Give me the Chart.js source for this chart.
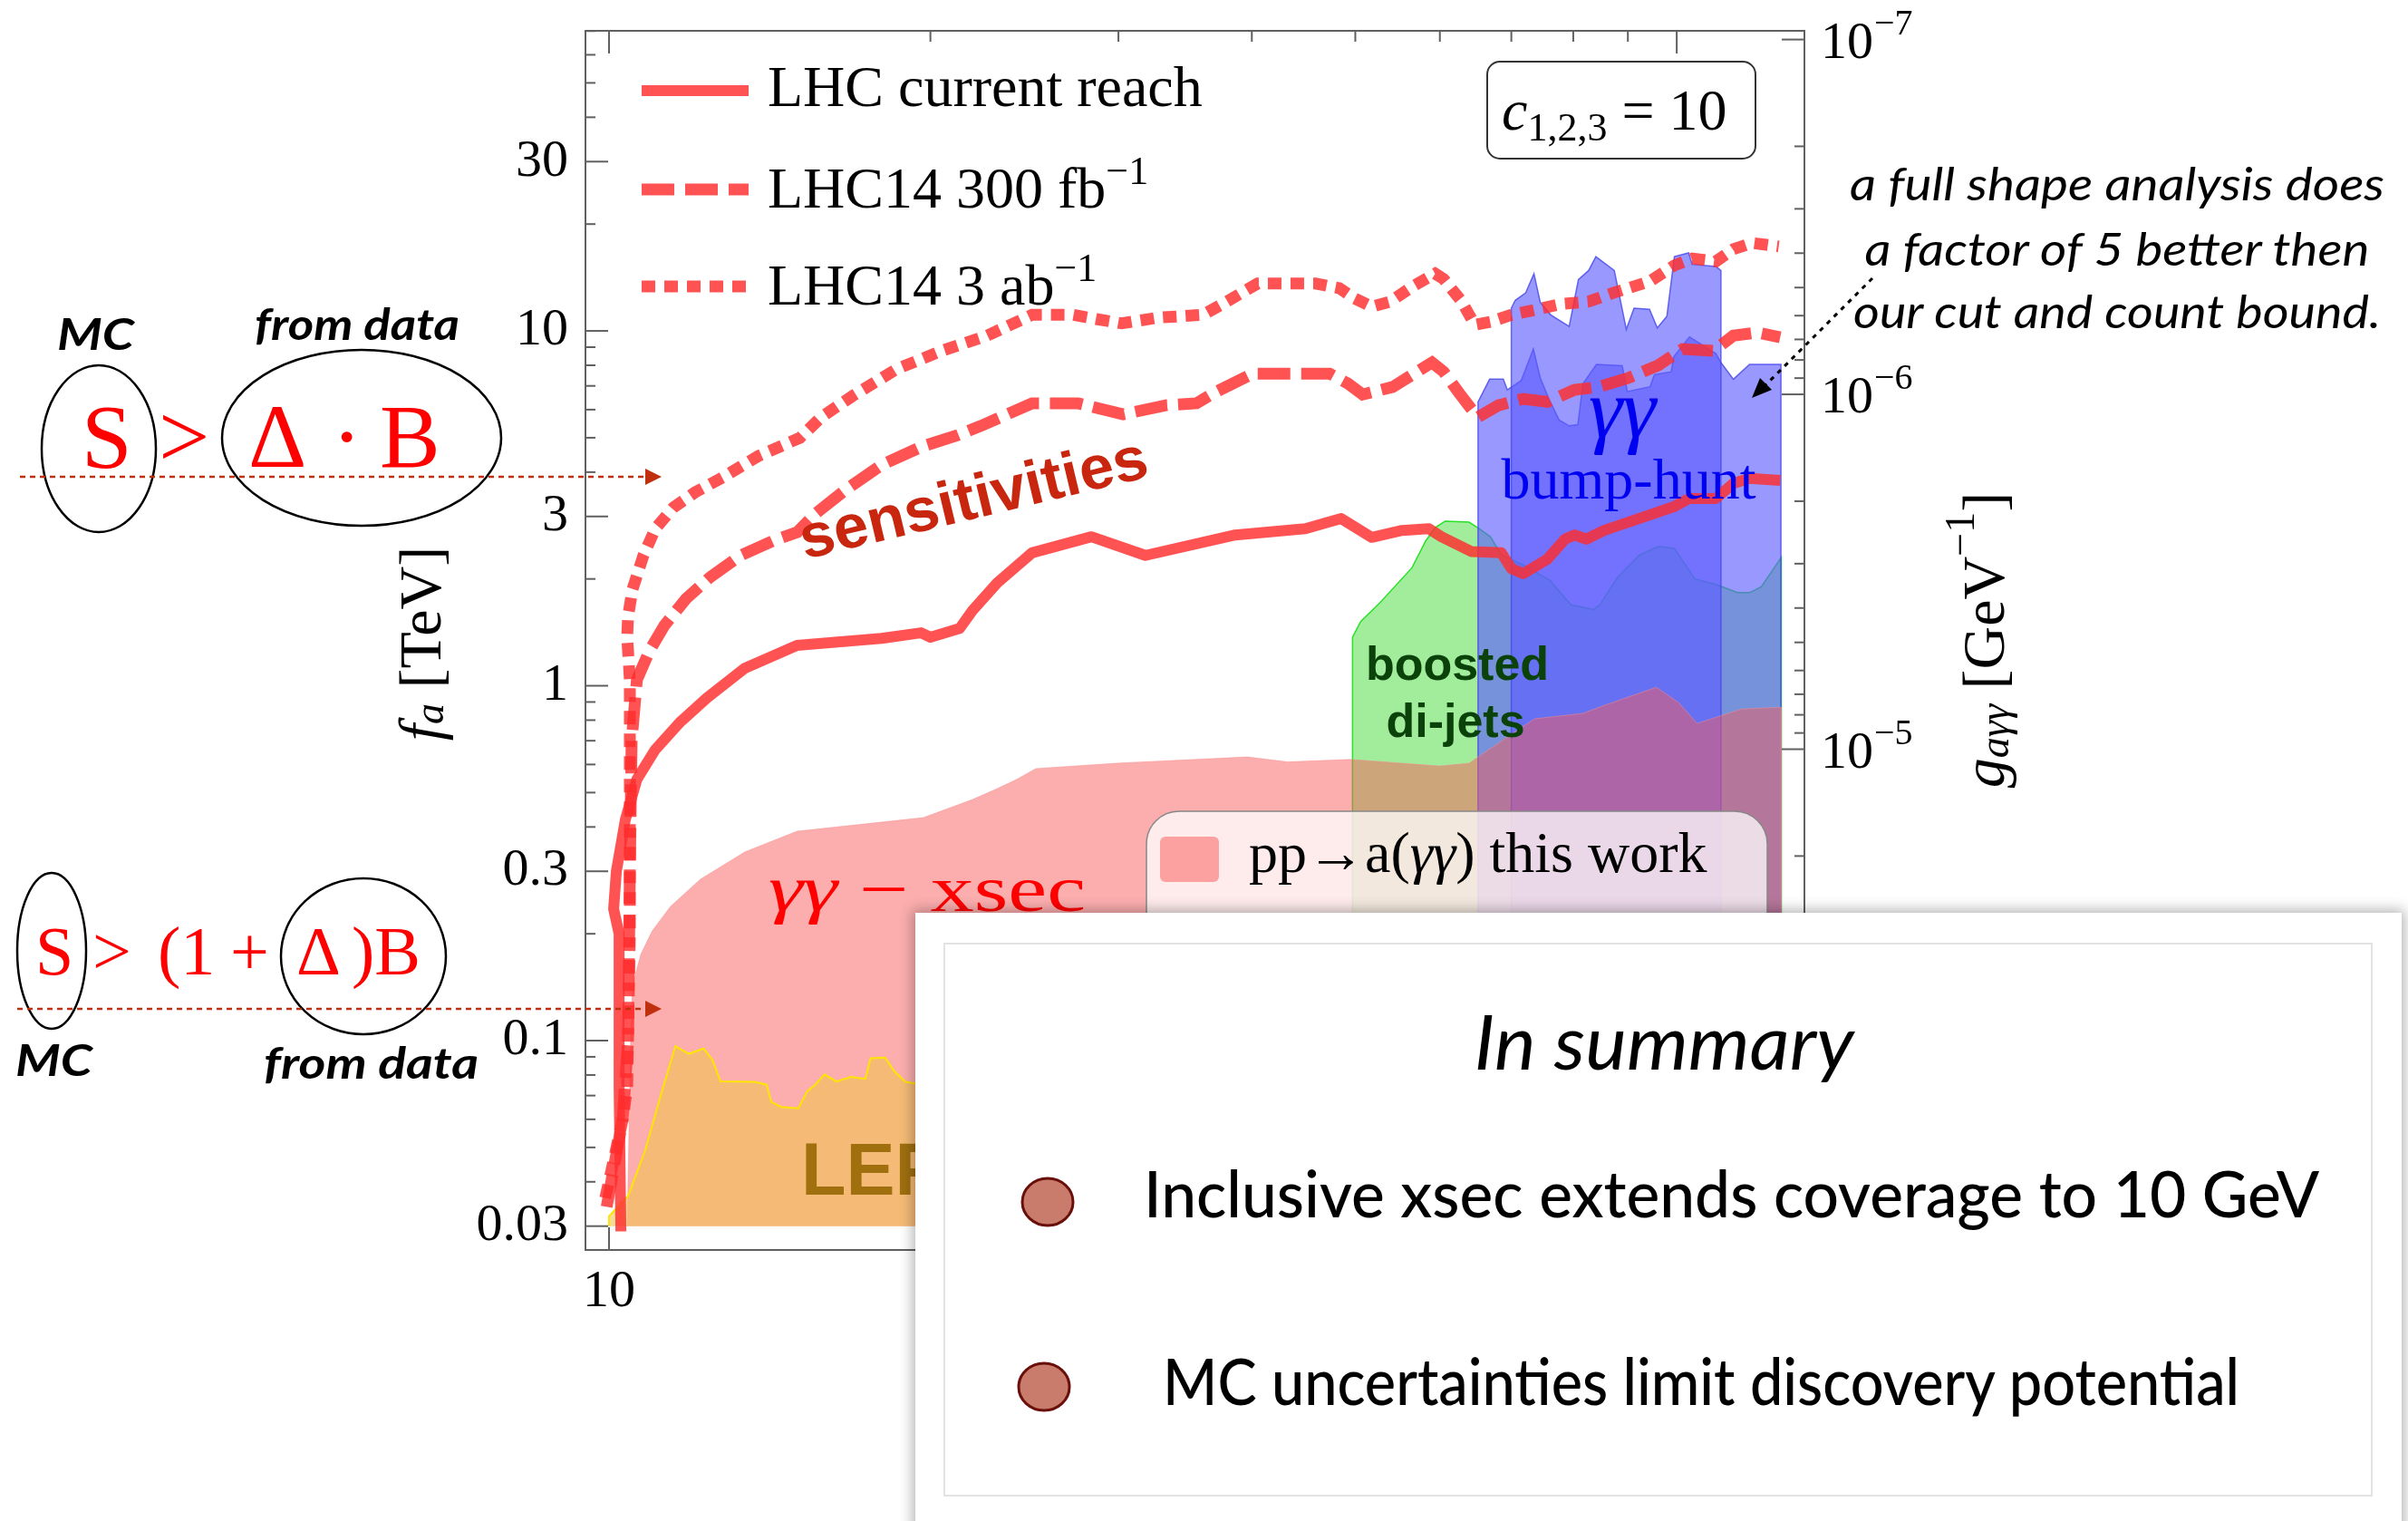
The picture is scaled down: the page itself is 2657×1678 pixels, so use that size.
<!DOCTYPE html>
<html lang="en">
<head>
<meta charset="utf-8">
<title>f_a reach vs m_a</title>
<script src="https://cdn.jsdelivr.net/npm/chart.js@4.4.1/dist/chart.umd.min.js"></script>
<style>
  html, body { margin: 0; padding: 0; background: #fff; }
  body { position: relative; width: 2657px; height: 1678px; overflow: hidden; }
  #plot, svg, #summary { position: absolute; left: 0; top: 0; }
  svg text { font-family: 'Liberation Serif', 'Times New Roman', serif; }
  svg text.sans { font-family: 'Liberation Sans', Arial, sans-serif; font-weight: bold; }
  svg text.fut, svg g.fut text { font-family: Lato, 'Noto Sans', sans-serif; }
  #summary { left: 1010px; top: 1007px; width: 1640px; height: 720px; background: #fff;
             box-shadow: 0 0 14px 3px rgba(0,0,0,0.3); }
</style>
</head>
<body>
<canvas id="plot" width="2657" height="1678"></canvas>

<svg id="notes" width="2657" height="1678">
  <!-- legend inside the frame -->
  <g stroke="rgba(255,45,45,0.82)" stroke-width="12">
    <line x1="708" y1="100" x2="826" y2="100"/>
    <line x1="708" y1="209" x2="826" y2="209" stroke-width="13" stroke-dasharray="36 12"/>
    <line x1="708" y1="316" x2="826" y2="316" stroke-width="13" stroke-dasharray="15 10"/>
  </g>
  <g font-size="64" fill="#000">
    <text x="847" y="117">LHC current reach</text>
    <text x="847" y="229">LHC14 300 fb<tspan font-size="44" dy="-26">−1</tspan></text>
    <text x="847" y="336">LHC14 3 ab<tspan font-size="44" dy="-26">−1</tspan></text>
  </g>

  <rect x="1641" y="68" width="296" height="107" rx="14" fill="#fff" stroke="#333" stroke-width="2"/>
  <text x="1657" y="143" font-size="64"><tspan font-style="italic">c</tspan><tspan font-size="44" dy="12">1,2,3</tspan><tspan dy="-12"> = 10</tspan></text>

  <!-- region labels -->
  <text class="sans" x="888" y="617" font-size="68" fill="#c8260f" transform="rotate(-13.5 888 617)"
        textLength="393" lengthAdjust="spacingAndGlyphs">sensitivities</text>
  <text x="848" y="1005" font-size="72" fill="#ff0000" textLength="350" lengthAdjust="spacingAndGlyphs"><tspan font-style="italic">γγ</tspan> − xsec</text>
  <text class="sans" x="884" y="1318" font-size="81" fill="#a0700f">LEP</text>
  <text class="sans" x="1608" y="750" font-size="52" fill="#0a420a" text-anchor="middle">boosted</text>
  <text class="sans" x="1606" y="813" font-size="52" fill="#0a420a" text-anchor="middle">di-jets</text>
  <text x="1790" y="482" font-size="94" font-style="italic" fill="#0000f0" text-anchor="middle">γγ</text>
  <text x="1797" y="550" font-size="64" fill="#0000f0" text-anchor="middle">bump-hunt</text>

  <!-- legend box for the pink region -->
  <rect x="1265" y="895" width="685" height="220" rx="36" fill="rgba(255,255,255,0.75)" stroke="#888" stroke-width="1.5"/>
  <rect x="1280" y="923" width="65" height="50" rx="6" fill="#fca0a0"/>
  <text x="1378" y="962" font-size="64">pp→a(<tspan font-style="italic">γγ</tspan>) this work</text>

  <!-- note at the right -->
  <g class="fut" font-style="italic" font-size="50" fill="#000" text-anchor="middle">
    <text x="2336" y="221" textLength="590" lengthAdjust="spacingAndGlyphs">a full shape analysis does</text>
    <text x="2336" y="293" textLength="557" lengthAdjust="spacingAndGlyphs">a factor of 5 better then</text>
    <text x="2336" y="362" textLength="582" lengthAdjust="spacingAndGlyphs">our cut and count bound.</text>
  </g>
  <line x1="2066" y1="307" x2="1947" y2="426" stroke="#000" stroke-width="3" stroke-dasharray="5 6"/>
  <polygon points="1933,439 1955,430 1942,417" fill="#000"/>

  <!-- axis titles -->
  <text x="463" y="710" font-size="66" text-anchor="middle" dominant-baseline="central" transform="rotate(-90 463 710)"><tspan font-style="italic">f</tspan><tspan font-style="italic" font-size="46" dy="10">a</tspan><tspan dy="-10"> [TeV]</tspan></text>
  <text x="2188" y="706" font-size="66" text-anchor="middle" dominant-baseline="central" transform="rotate(-90 2188 706)"><tspan font-style="italic">g</tspan><tspan font-style="italic" font-size="46" dy="12">aγγ</tspan><tspan dy="-12"> [GeV</tspan><tspan font-size="46" dy="-26">−1</tspan><tspan dy="26">]</tspan></text>

  <!-- S > Delta B notes on the left -->
  <g class="fut" font-style="italic" font-weight="700" font-size="48" fill="#000">
    <text x="63" y="386" textLength="85" lengthAdjust="spacingAndGlyphs">MC</text>
    <text x="281" y="375" textLength="226" lengthAdjust="spacingAndGlyphs">from data</text>
    <text x="17" y="1187" textLength="85" lengthAdjust="spacingAndGlyphs">MC</text>
    <text x="291" y="1190" textLength="237" lengthAdjust="spacingAndGlyphs">from data</text>
  </g>
  <g fill="none" stroke="#000" stroke-width="2.5">
    <ellipse cx="109" cy="495" rx="63" ry="92"/>
    <ellipse cx="399" cy="483" rx="154" ry="97"/>
    <ellipse cx="57" cy="1049" rx="38" ry="86"/>
    <ellipse cx="401" cy="1055" rx="91" ry="86"/>
  </g>
  <text y="515" font-size="100" fill="#ff0000"><tspan x="90">S</tspan><tspan x="175">&gt;</tspan><tspan x="274">Δ</tspan><tspan x="366">·</tspan><tspan x="419">B</tspan></text>
  <text y="1075" font-size="76" fill="#ff0000"><tspan x="39">S</tspan><tspan x="102">&gt;</tspan><tspan x="174">(1</tspan><tspan x="254">+</tspan><tspan x="327">Δ</tspan><tspan x="388">)B</tspan></text>
  <g stroke="#c0300e" stroke-width="2.5" stroke-dasharray="6 5">
    <line x1="22" y1="526" x2="714" y2="526"/>
    <line x1="19" y1="1113" x2="714" y2="1113"/>
  </g>
  <g fill="#c0300e">
    <polygon points="730,526 712,517 712,535"/>
    <polygon points="730,1113 712,1104 712,1122"/>
  </g>
</svg>

<div id="summary"></div>

<svg id="summaryText" width="2657" height="1678">
  <rect x="1042" y="1041" width="1575" height="609" fill="none" stroke="#e2e2e2" stroke-width="2"/>
  <text class="fut" x="1836" y="1180" font-size="84" font-style="italic" text-anchor="middle"
        textLength="419" lengthAdjust="spacingAndGlyphs">In summary</text>
  <ellipse cx="1156" cy="1326" rx="28" ry="26" fill="#c97b6c" stroke="#6a0f0a" stroke-width="3"/>
  <ellipse cx="1152" cy="1530" rx="28" ry="26" fill="#c97b6c" stroke="#6a0f0a" stroke-width="3"/>
  <text class="fut" x="1262" y="1343" font-size="72" font-weight="500" textLength="1297" lengthAdjust="spacingAndGlyphs">Inclusive xsec extends coverage to 10 GeV</text>
  <text class="fut" x="1283" y="1550" font-size="72" font-weight="500" textLength="1188" lengthAdjust="spacingAndGlyphs">MC uncertainties limit discovery potential</text>
</svg>

<script>
// axion mass m_a [GeV] against f_a [TeV]

// LHC current reach (solid)
const massCurrent = [10.26, 10.22, 10.22, 10.10, 10.16, 10.36, 10.62, 11.05, 11.65, 12.35, 13.4, 15.0, 18.0, 19.6, 20.0,
  21.3, 21.9, 23.1, 24.9, 28.3, 31.8, 38.6, 44.9, 48.5, 51.8, 55.3, 58.6, 60.2, 64.2, 68.5, 70.0, 71.8, 75.6, 78.6,
  80.2, 82.3, 85.5, 93.1, 99.5, 102.7, 108.8, 113.0, 117.0, 125.0];
const faCurrent = [0.029, 0.074, 0.20, 0.235, 0.30, 0.42, 0.545, 0.661, 0.788, 0.924, 1.12, 1.30, 1.36, 1.41, 1.37,
  1.45, 1.63, 1.95, 2.37, 2.63, 2.33, 2.66, 2.77, 2.96, 2.62, 2.74, 2.77, 2.63, 2.39, 2.37, 2.14, 2.07, 2.27, 2.59,
  2.66, 2.59, 2.74, 2.99, 3.20, 3.37, 3.37, 3.72, 3.84, 3.79];

// LHC14 300 fb-1 (dashed)
const mass300 = [9.95, 10.30, 10.42, 10.46, 10.50, 10.62, 10.92, 11.27, 11.81, 12.43, 13.28, 14.24, 15.01, 15.6, 16.66,
  18.0, 19.6, 21.2, 22.3, 24.9, 27.5, 30.3, 33.3, 35.5, 36.9, 40.1, 47.3, 49.2, 50.8, 54.2, 59.0, 60.5, 62.5, 65.1,
  68.1, 71.8, 75.7, 80.2, 84.4, 90.0, 96.1, 101.3, 108.3, 113.0, 119.0, 125.0];
const fa300 = [0.034, 0.060, 0.10, 0.30, 0.70, 1.04, 1.26, 1.48, 1.76, 2.02, 2.33, 2.56, 2.71, 3.05, 3.57,
  4.19, 4.71, 5.08, 5.40, 6.25, 6.25, 5.82, 6.18, 6.25, 6.70, 7.58, 7.58, 7.11, 6.62, 6.95, 8.15, 7.67, 6.70, 5.71,
  6.17, 6.43, 6.31, 6.82, 6.95, 7.36, 8.00, 8.89, 8.79, 9.70, 9.90, 9.60];

// LHC14 3 ab-1 (dotted)
const mass3ab = [9.92, 10.30, 10.40, 10.46, 10.46, 10.46, 10.46, 10.40, 10.42, 10.52, 10.77, 11.05, 11.49, 12.04, 12.77,
  13.8, 15.1, 15.8, 16.9, 18.6, 20.5, 22.6, 24.9, 27.2, 28.6, 30.2, 32.7, 36.0, 37.9, 40.5, 45.9, 48.3, 49.8, 51.8,
  53.9, 56.7, 59.4, 60.5, 62.9, 64.7, 66.9, 70.0, 73.0, 77.9, 82.7, 87.2, 94.4, 99.5, 103.4, 108.8, 113.0, 117.6, 124.6];
const fa3ab = [0.036, 0.060, 0.074, 0.20, 0.43, 0.77, 1.04, 1.37, 1.57, 1.87, 2.33, 2.77, 3.18, 3.51, 3.86,
  4.44, 5.00, 5.71, 6.55, 7.81, 8.79, 9.70, 11.1, 11.1, 10.8, 10.5, 10.9, 11.1, 12.1, 13.6, 13.6, 13.2, 12.4, 11.7,
  12.1, 13.4, 14.5, 14.0, 12.1, 10.4, 10.6, 11.1, 11.4, 11.9, 12.1, 12.8, 13.8, 15.3, 16.0, 15.7, 17.0, 17.7, 17.3];

// pp -> a(gamma gamma) inclusive cross section, this work (pink)
const massXsec = [10.40, 10.48, 10.52, 10.71, 10.98, 11.42, 12.18, 13.4, 15.0, 19.7, 21.9, 23.1, 24.1, 25.1, 29.9,
  39.6, 43.2, 49.5, 60.0, 63.9, 69.4, 73.6, 81.7, 85.5, 95.7, 100.4, 104.5, 115.0, 125.2, 125.2];
const faXsec = [0.030, 0.10, 0.143, 0.175, 0.204, 0.239, 0.285, 0.340, 0.389, 0.425, 0.478, 0.513, 0.545, 0.584, 0.605,
  0.630, 0.610, 0.620, 0.594, 0.605, 0.717, 0.807, 0.836, 0.880, 0.990, 0.897, 0.783, 0.860, 0.870, 0.030];

// LEP (orange)
const massLep = [10.00, 10.00, 10.42, 10.81, 11.22, 11.54, 11.88, 12.26, 12.50, 12.72, 13.70, 14.05, 14.19, 14.50,
  15.04, 15.34, 15.60, 15.92, 16.33, 16.85, 17.38, 17.58, 18.14, 18.50, 18.95, 19.46, 24.0, 24.0];
const faLep = [0.030, 0.032, 0.0365, 0.049, 0.0728, 0.0964, 0.0918, 0.0950, 0.0882, 0.0767, 0.0765, 0.0751, 0.0672, 0.0650,
  0.0644, 0.0721, 0.0751, 0.0803, 0.0767, 0.0790, 0.0780, 0.0892, 0.0896, 0.0820, 0.0765, 0.0755, 0.0750, 0.030];

// boosted di-jets (green)
const massDijet = [49.7, 49.7, 50.6, 52.7, 56.5, 58.2, 59.4, 60.7, 63.9, 65.1, 66.9, 68.5, 71.8, 76.1, 79.6, 83.6,
  84.7, 88.0, 92.2, 96.1, 99.5, 104.0, 108.8, 114.0, 117.0, 120.0, 125.3, 125.3];
const faDijet = [0.02, 1.37, 1.52, 1.71, 2.15, 2.56, 2.79, 2.91, 2.89, 2.79, 2.63, 2.34, 2.19, 1.98, 1.69, 1.64,
  1.69, 2.02, 2.33, 2.47, 2.44, 2.00, 1.93, 1.83, 1.83, 1.90, 2.30, 0.02];

// diphoton bump hunt, wide and core bands (blue)
const massBumpWide = [65.15, 65.15, 66.8, 68.8, 69.4, 71.5, 73.4, 74.5, 75.9, 77.6, 79.3, 80.8, 81.7, 84.1, 88.9,
  89.9, 94.4, 95.3, 98.8, 99.4, 102.8, 108.8, 110.0, 113.0, 117.0, 125.2, 125.2];
const faBumpWide = [0.02, 6.31, 7.31, 7.31, 6.82, 7.24, 8.89, 7.38, 6.43, 5.61, 5.40, 5.44, 7.10, 8.05, 7.98,
  6.75, 6.96, 7.53, 7.67, 8.47, 9.62, 8.63, 8.14, 7.31, 8.05, 8.05, 0.02];
const massBumpCore = [70.0, 70.0, 70.6, 72.2, 73.5, 74.5, 76.2, 79.3, 80.9, 82.7, 84.0, 87.4, 89.7, 91.2, 94.3,
  95.9, 97.9, 99.5, 102.6, 103.4, 108.8, 110.0, 110.0];
const faBumpCore = [0.02, 11.59, 12.2, 12.8, 14.5, 12.05, 11.1, 10.3, 13.96, 14.8, 16.2, 14.8, 10.1, 11.59, 11.5,
  10.2, 11.0, 16.2, 16.6, 15.4, 15.2, 14.8, 0.02];

// axes and ticks
const massLabels = [10];
const massMajorTicks = [10, 100];
const massMinorTicks = [20, 30, 40, 50, 60, 70, 80, 90];
const faLabels = [0.03, 0.1, 0.3, 1, 3, 10, 30];
const faMinorTicks = [0.04, 0.05, 0.06, 0.07, 0.08, 0.09, 0.2, 0.4, 0.5, 0.6, 0.7, 0.8, 0.9,
  2, 4, 5, 6, 7, 8, 9, 20, 40, 50, 60, 70];
const gLabels = [1e-7, 1e-6, 1e-5, 1e-4];
const gExponents = ['−7', '−6', '−5', '−4'];

const X_MIN = 9.505, X_MAX = 131.7;
const F_MIN = 0.0257, F_MAX = 70.1;
const G_TIMES_F = 6.625e-6;   // g_agg [1/GeV] * f_a [TeV] for c = 10

const pairs = (xs, ys) => xs.map((x, i) => ({ x: x, y: ys[i] }));
const lineRed = 'rgba(255,45,45,0.82)';

const frameTicks = {
  id: 'frameTicks',
  afterDraw(chart) {
    const { ctx, chartArea: a } = chart;
    const { x, y, y2 } = chart.scales;
    const seg = (x1, y1, x2, y2_) => { ctx.beginPath(); ctx.moveTo(x1, y1); ctx.lineTo(x2, y2_); ctx.stroke(); };
    ctx.save();
    ctx.strokeStyle = '#606060';
    ctx.lineWidth = 2;
    ctx.strokeRect(a.left, a.top, a.right - a.left, a.bottom - a.top);

    faLabels.forEach(v => { const p = y.getPixelForValue(v); seg(a.left, p, a.left + 25, p); });
    faMinorTicks.forEach(v => { const p = y.getPixelForValue(v); seg(a.left, p, a.left + 11, p); });

    const gMinor = [1e-7, 1e-6, 1e-5].flatMap(d => [2, 3, 4, 5, 6, 7, 8, 9].map(k => k * d));
    gLabels.forEach(v => { const p = y2.getPixelForValue(v); if (p >= a.top && p <= a.bottom) seg(a.right, p, a.right - 25, p); });
    gMinor.forEach(v => { const p = y2.getPixelForValue(v); if (p >= a.top && p <= a.bottom) seg(a.right, p, a.right - 11, p); });

    massMajorTicks.forEach(v => { const p = x.getPixelForValue(v); seg(p, a.top, p, a.top + 25); seg(p, a.bottom, p, a.bottom - 25); });
    massMinorTicks.forEach(v => { const p = x.getPixelForValue(v); seg(p, a.top, p, a.top + 12); seg(p, a.bottom, p, a.bottom - 12); });

    // right axis labels 10^n
    ctx.fillStyle = '#000';
    ctx.textBaseline = 'alphabetic';
    ctx.textAlign = 'left';
    gLabels.forEach((v, i) => {
      const p = y2.getPixelForValue(v);
      if (p < a.top - 12 || p > a.bottom) return;
      ctx.font = '58px "Liberation Serif"';
      ctx.fillText('10', a.right + 18, p + 20);
      ctx.font = '40px "Liberation Serif"';
      ctx.fillText(gExponents[i], a.right + 77, p - 6);
    });
    ctx.restore();
  }
};

const tickFont = { family: '"Liberation Serif", "Times New Roman", serif', size: 58 };

new Chart(document.getElementById('plot'), {
  type: 'line',
  data: {
    datasets: [
      { data: pairs(mass3ab, fa3ab), borderColor: lineRed, borderWidth: 13, borderDash: [15, 10], fill: false, order: 0 },
      { data: pairs(mass300, fa300), borderColor: lineRed, borderWidth: 13, borderDash: [36, 12], fill: false, order: 0 },
      { data: pairs(massCurrent, faCurrent), borderColor: lineRed, borderWidth: 12, borderJoinStyle: 'round', fill: false, order: 0 },
      { data: pairs(massLep, faLep), borderColor: 'rgba(255,230,0,1)', borderWidth: 2,
        backgroundColor: 'rgba(240,196,82,0.6)', fill: { value: 0.03 }, order: 1 },
      { data: pairs(massXsec, faXsec), borderColor: 'rgba(249,140,140,0.5)', borderWidth: 1,
        backgroundColor: 'rgba(249,90,90,0.49)', fill: { value: 0.03 }, order: 2 },
      { data: pairs(massBumpCore, faBumpCore), borderColor: 'rgba(70,70,235,0.8)', borderWidth: 1.5,
        backgroundColor: 'rgba(92,92,255,0.63)', fill: 'start', order: 3 },
      { data: pairs(massBumpWide, faBumpWide), borderColor: 'rgba(70,70,235,0.8)', borderWidth: 1.5,
        backgroundColor: 'rgba(92,92,255,0.63)', fill: 'start', order: 4 },
      { data: pairs(massDijet, faDijet), borderColor: 'rgba(40,225,40,1)', borderWidth: 1.5,
        backgroundColor: 'rgba(100,225,90,0.6)', fill: 'start', order: 5 }
    ]
  },
  options: {
    responsive: false,
    animation: false,
    devicePixelRatio: 1,
    layout: { padding: { left: 0, top: 34, right: 666, bottom: 199 } },
    elements: { point: { radius: 0, hoverRadius: 0 }, line: { tension: 0 } },
    plugins: { legend: { display: false }, tooltip: { enabled: false } },
    events: [],
    scales: {
      x: {
        type: 'logarithmic', min: X_MIN, max: X_MAX, bounds: 'data',
        grid: { display: false, drawTicks: false }, border: { display: false },
        ticks: { font: tickFont, color: '#000', padding: 12, maxRotation: 0, autoSkip: false,
                 callback: v => massLabels.includes(v) ? String(v) : '' },
        afterBuildTicks: s => { s.ticks = massLabels.map(v => ({ value: v })); },
        afterFit: s => { s.height = 100; s.paddingLeft = 0; s.paddingRight = 0; }
      },
      y: {
        type: 'logarithmic', position: 'left', min: F_MIN, max: F_MAX, bounds: 'data',
        grid: { display: false, drawTicks: false }, border: { display: false },
        ticks: { font: tickFont, color: '#000', padding: 19, autoSkip: false,
                 callback: v => faLabels.includes(v) ? String(v) : '' },
        afterBuildTicks: s => { s.ticks = faLabels.map(v => ({ value: v })); },
        afterFit: s => { s.width = 646; s.paddingTop = 0; s.paddingBottom = 0; }
      },
      y2: {
        type: 'logarithmic', position: 'right', reverse: true, bounds: 'data',
        min: G_TIMES_F / F_MAX, max: G_TIMES_F / F_MIN,
        grid: { display: false, drawTicks: false }, border: { display: false },
        ticks: { display: false },
        afterFit: s => { s.width = 0; s.paddingTop = 0; s.paddingBottom = 0; }
      }
    }
  },
  plugins: [frameTicks]
});
</script>
</body>
</html>
